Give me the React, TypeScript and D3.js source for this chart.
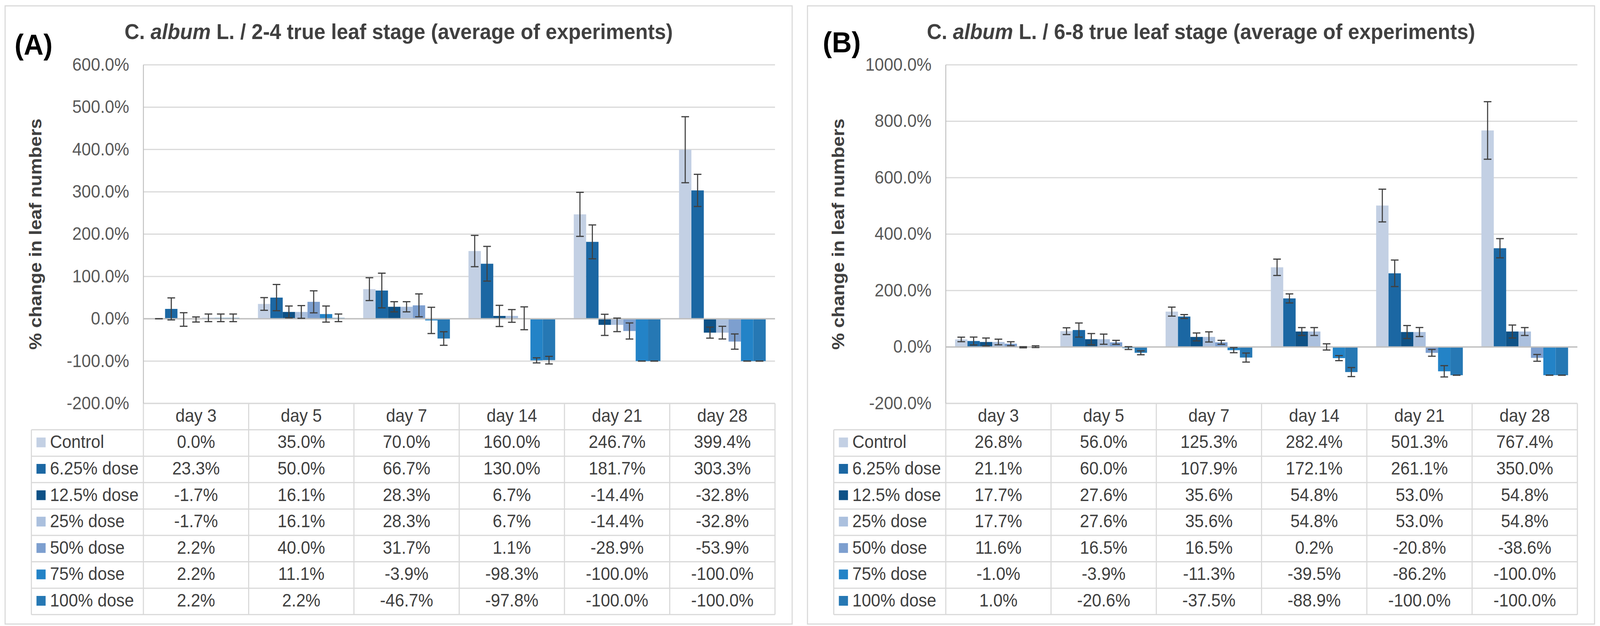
import React from 'react';
import * as d3 from 'd3';

const days = ['day 3', 'day 5', 'day 7', 'day 14', 'day 21', 'day 28'];
const seriesNames = ['Control', '6.25% dose', '12.5% dose', '25% dose', '50% dose', '75% dose', '100% dose'];
const seriesColors = ['#c3d0e4', '#1b67a3', '#0e5186', '#abc0de', '#7d9fcf', '#2383c7', '#2678b4'];

// panel A: 2-4 true leaf stage
const aControl = [0.0, 35.0, 70.0, 160.0, 246.7, 399.4];
const a625 = [23.3, 50.0, 66.7, 130.0, 181.7, 303.3];
const a125 = [-1.7, 16.1, 28.3, 6.7, -14.4, -32.8];
const a25 = [-1.7, 16.1, 28.3, 6.7, -14.4, -32.8];
const a50 = [2.2, 40.0, 31.7, 1.1, -28.9, -53.9];
const a75 = [2.2, 11.1, -3.9, -98.3, -100.0, -100.0];
const a100 = [2.2, 2.2, -46.7, -97.8, -100.0, -100.0];

const aControlErr = [0, 15, 27, 37, 52, 78];
const a625Err = [26, 31, 41, 41, 40, 38];
const a125Err = [16, 14, 12, 25, 25, 13];
const a25Err = [6, 15, 12, 15, 16, 15];
const a50Err = [9, 26, 27, 27, 19, 18];
const a75Err = [9, 19, 31, 6, 0, 0];
const a100Err = [9, 9, 16, 9, 0, 0];

const ticksA = [-200, -100, 0, 100, 200, 300, 400, 500, 600];

// panel B: 6-8 true leaf stage
const bControl = [26.8, 56.0, 125.3, 282.4, 501.3, 767.4];
const b625 = [21.1, 60.0, 107.9, 172.1, 261.1, 350.0];
const b125 = [17.7, 27.6, 35.6, 54.8, 53.0, 54.8];
const b25 = [17.7, 27.6, 35.6, 54.8, 53.0, 54.8];
const b50 = [11.6, 16.5, 16.5, 0.2, -20.8, -38.6];
const b75 = [-1.0, -3.9, -11.3, -39.5, -86.2, -100.0];
const b100 = [1.0, -20.6, -37.5, -88.9, -100.0, -100.0];

const bControlErr = [8, 12, 16, 29, 58, 102];
const b625Err = [14, 25, 7, 16, 47, 34];
const b125Err = [14, 20, 14, 14, 23, 23];
const b25Err = [10, 18, 18, 14, 16, 14];
const b50Err = [7, 7, 7, 11, 12, 12];
const b75Err = [2, 5, 9, 9, 20, 0];
const b100Err = [3, 7, 16, 16, 0, 0];

const ticksB = [-200, 0, 200, 400, 600, 800, 1000];

const FONT = '"Liberation Sans", Arial, sans-serif';
const GRID = '#d9d9d9';

// layout, in panel A coordinates (panel B is shifted right)
const W = 4385;
const H = 1603;
const plotLeft = 393;
const plotRight = 2124;
const plotTop = 166;
const plotBottom = 1033;
const rowH = 67.6;
const tableLeft = 86;

interface PanelProps {
  dx: number;
  letter: string;
  letterX: number;
  letterY: number;
  stage: string;
  values: number[][];
  errors: number[][];
  ticks: number[];
}

function Panel({ dx, letter, letterX, letterY, stage, values, errors, ticks }: PanelProps) {
  const x0 = d3.scaleBand<string>().domain(days).range([plotLeft, plotRight]);
  const x1 = d3.scaleBand<string>()
    .domain(seriesNames)
    .range([0, x0.bandwidth()])
    .paddingInner(0)
    .paddingOuter(0.75);
  const y = d3.scaleLinear()
    .domain([ticks[0], ticks[ticks.length - 1]])
    .range([plotBottom, plotTop]);

  const panelCx = (14 + 2171) / 2;
  const rowTop = (r: number) => plotBottom + rowH * (r + 1);
  const tableBottom = plotBottom + rowH * 8;

  return (
    <g transform={`translate(${dx},0)`} fontFamily={FONT}>
      <rect x={14} y={15} width={2157} height={1583} fill="#fff" stroke={GRID} strokeWidth={3} />

      <text x={letterX} y={letterY} fontSize={75} fontWeight="bold" fill="#000">{letter}</text>

      <text x={panelCx} y={100} fontSize={56} fontWeight="bold" fill="#404040" textAnchor="middle">
        <tspan>C. </tspan>
        <tspan fontStyle="italic">album</tspan>
        <tspan>{` L. / ${stage} true leaf stage (average of experiments)`}</tspan>
      </text>

      {/* gridlines and y ticks */}
      {ticks.map(t => (
        <g key={t}>
          {t !== 0 && (
            <line x1={plotLeft} x2={plotRight} y1={y(t)} y2={y(t)} stroke={GRID} strokeWidth={3} />
          )}
          <text x={plotLeft - 39} y={y(t) + 15} fontSize={46} fill="#595959" textAnchor="end">
            {`${t.toFixed(1)}%`}
          </text>
        </g>
      ))}

      <text
        transform={`translate(114,${(plotTop + plotBottom) / 2}) rotate(-90)`}
        fontSize={48}
        fontWeight="bold"
        fill="#404040"
        textAnchor="middle"
      >
        % change in leaf numbers
      </text>

      {/* bars */}
      {days.map((d, i) => (
        <g key={d}>
          {seriesNames.map((s, j) => {
            const v = values[j][i];
            const y0 = y(0);
            const yv = y(v);
            return (
              <rect
                key={s}
                x={x0(d)! + x1(s)!}
                y={Math.min(y0, yv)}
                width={x1.bandwidth()}
                height={Math.abs(yv - y0)}
                fill={seriesColors[j]}
              />
            );
          })}
        </g>
      ))}

      {/* zero line */}
      <line x1={plotLeft} x2={plotRight} y1={y(0)} y2={y(0)} stroke="#bfbfbf" strokeWidth={3.5} />

      {/* error bars */}
      {days.map((d, i) => (
        <g key={d} stroke="#404040" strokeWidth={3}>
          {seriesNames.map((s, j) => {
            const v = values[j][i];
            const e = errors[j][i];
            const cx = x0(d)! + x1(s)! + x1.bandwidth() / 2;
            const top = y(v + e);
            const bot = y(v - e);
            return (
              <g key={s}>
                <line x1={cx} x2={cx} y1={top} y2={bot} />
                <line x1={cx - 10.5} x2={cx + 10.5} y1={top} y2={top} />
                <line x1={cx - 10.5} x2={cx + 10.5} y1={bot} y2={bot} />
              </g>
            );
          })}
        </g>
      ))}

      {/* data table */}
      <g stroke={GRID} strokeWidth={3}>
        {d3.range(8).map(r => (
          <line key={r} x1={r === 0 ? plotLeft : tableLeft} x2={plotRight}
            y1={plotBottom + rowH * r} y2={plotBottom + rowH * r} />
        ))}
        <line x1={tableLeft} x2={plotRight} y1={tableBottom} y2={tableBottom} />
        <line x1={tableLeft} x2={tableLeft} y1={rowTop(0)} y2={tableBottom} />
        {days.map(d => (
          <line key={d} x1={x0(d)!} x2={x0(d)!} y1={plotBottom} y2={tableBottom} />
        ))}
        <line x1={plotRight} x2={plotRight} y1={plotBottom} y2={tableBottom} />
      </g>
      <line x1={plotLeft} x2={plotLeft} y1={plotTop} y2={plotBottom} stroke="#bfbfbf" strokeWidth={2.5} />

      {days.map(d => (
        <text key={d} x={x0(d)! + x0.bandwidth() / 2} y={plotBottom + rowH / 2 + 13.5}
          fontSize={46} fill="#404040" textAnchor="middle">{d}</text>
      ))}

      {seriesNames.map((s, j) => {
        const cy = rowTop(j) + rowH / 2;
        return (
          <g key={s}>
            <rect x={tableLeft + 14} y={cy - 14} width={25} height={25} fill={seriesColors[j]} />
            <text x={tableLeft + 51} y={cy + 13} fontSize={46} fill="#404040">{s}</text>
            {days.map((d, i) => (
              <text key={d} x={x0(d)! + x0.bandwidth() / 2} y={cy + 13}
                fontSize={46} fill="#404040" textAnchor="middle">
                {`${values[j][i].toFixed(1)}%`}
              </text>
            ))}
          </g>
        );
      })}
    </g>
  );
}

export default function App() {
  const valuesA = [aControl, a625, a125, a25, a50, a75, a100];
  const errorsA = [aControlErr, a625Err, a125Err, a25Err, a50Err, a75Err, a100Err];
  const valuesB = [bControl, b625, b125, b25, b50, b75, b100];
  const errorsB = [bControlErr, b625Err, b125Err, b25Err, b50Err, b75Err, b100Err];

  // fill whatever viewport we get, keeping the reference's proportions per axis
  return (
    <div style={{ position: 'fixed', left: 0, top: 0, width: '100%', height: '100%' }}>
      <svg
        width="100%"
        height="100%"
        viewBox={`0 0 ${W} ${H}`}
        preserveAspectRatio="none"
        style={{ display: 'block', background: '#fff' }}
      >
        <rect width={W} height={H} fill="#fff" />
        <Panel dx={0} letter="(A)" letterX={40} letterY={140} stage="2-4"
          values={valuesA} errors={errorsA} ticks={ticksA} />
        <Panel dx={2199} letter="(B)" letterX={56} letterY={134} stage="6-8"
          values={valuesB} errors={errorsB} ticks={ticksB} />
      </svg>
    </div>
  );
}
